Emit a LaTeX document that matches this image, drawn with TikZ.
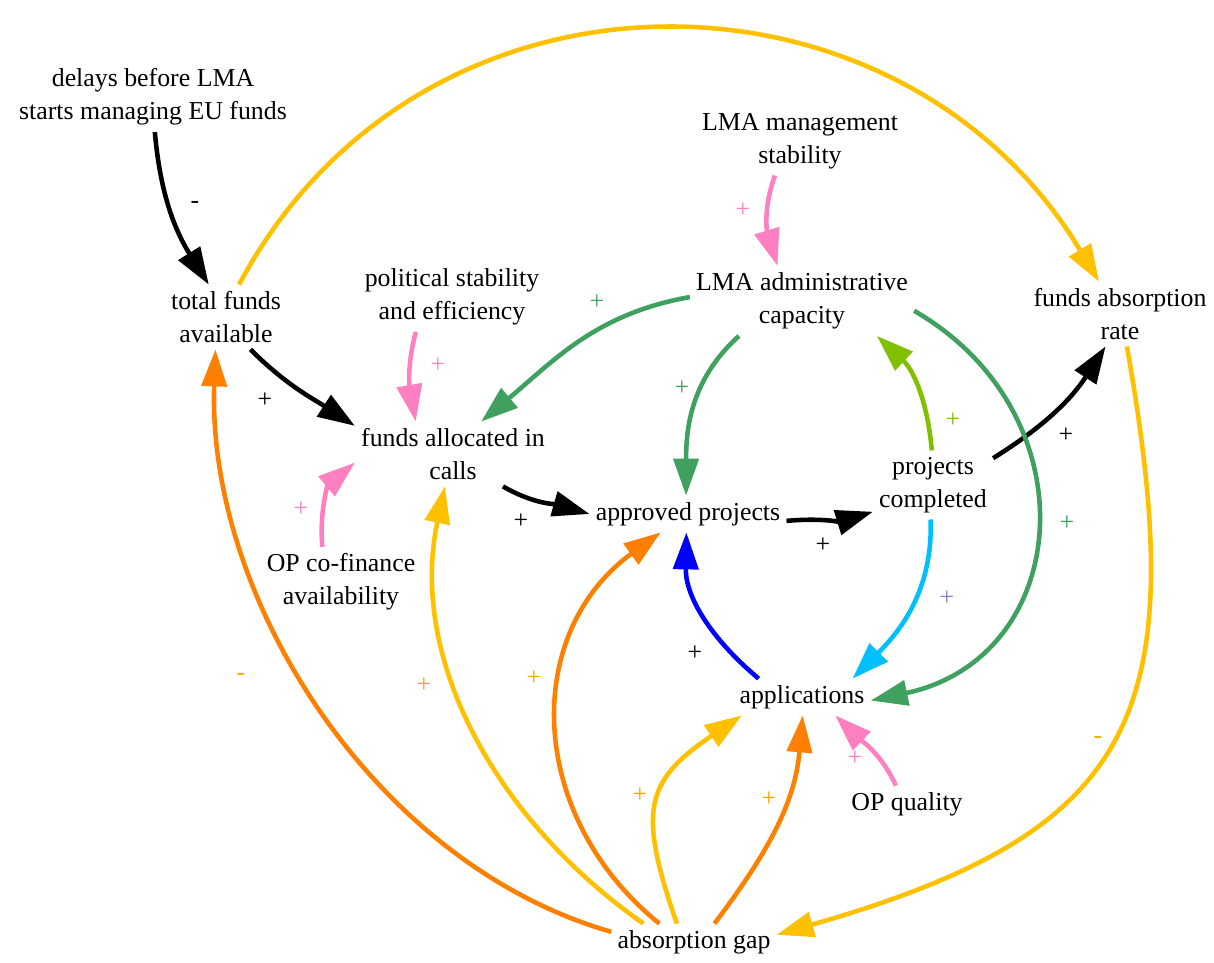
\documentclass[tikz,border=0pt]{standalone}
\usepackage{fontspec}
\setmainfont{Liberation Serif}
\usetikzlibrary{arrows.meta}
\definecolor{cldyellow}{RGB}{255,192,0}
\definecolor{cldorange}{RGB}{255,128,0}
\definecolor{cldlabel}{RGB}{255,165,0}
\definecolor{cldgreen}{RGB}{64,160,96}
\definecolor{cldlime}{RGB}{128,192,0}
\definecolor{cldpink}{RGB}{255,128,192}
\definecolor{cldcyan}{RGB}{0,191,255}
\definecolor{cldlav}{RGB}{128,128,200}
\tikzset{%
	var/.style={
		rectangle,
		inner xsep=3.4pt,
		inner ysep=3.6pt,
		align=center,
		font=\fontsize{14.7}{18.8}\selectfont
	},
	link/.style={
		line width=2.6pt,
		-{Triangle[length=0.74cm, width=0.5cm]}
	},
	polarity/.style={
		font=\fontsize{14.7}{18.8}\selectfont
	},
}

\begin{document}
\begin{tikzpicture}
	\useasboundingbox (0,0) rectangle (24.28,19.26);

	% Variables
	\node[var] (delays) at (3.06,17.32) {delays before LMA\\starts managing EU funds};
	\node[var] (total) at (4.52,12.92) {total funds\\available};
	\node[var] (polit) at (9.04,13.32) {political stability\\and efficiency};
	\node[var] (mgmt) at (16.00,16.44) {LMA management\\stability};
	\node[var] (admin) at (16.04,13.24) {LMA administrative\\capacity};
	\node[var] (rate) at (22.40,12.98) {funds absorption\\rate};
	\node[var] (alloc) at (9.06,10.18) {funds allocated in\\calls};
	\node[var] (approved) at (13.76,8.98) {approved projects};
	\node[var] (completed) at (18.66,9.56) {projects\\completed};
	\node[var] (cofin) at (6.82,7.62) {OP co-finance\\availability};
	\node[var] (appl) at (16.04,5.32) {applications};
	\node[var] (quality) at (18.14,3.18) {OP quality};
	\node[var] (gap) at (13.88,0.42) {absorption gap};

	% Black links
	\draw[link] (delays.-87) to[out=-85, in=122] (total.118);
	\node[polarity] (s1) at (3.90,15.16) {-};
	\draw[link] (total.-53) to[out=-45, in=147] (alloc.164);
	\node[polarity] (s2) at (5.30,11.26) {+};
	\draw[link] (alloc.-33) to[out=-30, in=164] (approved.180);
	\node[polarity] (s3) at (10.42,8.84) {+};
	\draw[link] (approved.-4) to[out=5, in=197] (completed.-156);
	\node[polarity] (s4) at (16.46,8.36) {+};
	\draw[link] (completed.24) to[out=32, in=-123] (rate.-114);
	\node[polarity] (s5) at (21.32,10.56) {+};
	\draw[link, blue] (appl.157) to[out=140, in=-91] (approved.-95);
	\node[polarity] (s6) at (13.90,6.20) {+};

	% Pink links
	\draw[link, cldpink] (polit.-136) to[out=-105, in=100] (alloc.139);
	\node[polarity, cldpink] (s7) at (8.76,11.96) {+};
	\draw[link, cldpink] (mgmt.-126) to[out=-110, in=107] (admin.125);
	\node[polarity, cldpink] (s8) at (14.86,15.06) {+};
	\draw[link, cldpink] (cofin.118) to[out=95, in=220] (alloc.185);
	\node[polarity, cldpink] (s9) at (6.02,9.08) {+};
	\draw[link, cldpink] (quality.121) to[out=115, in=-44] (appl.-29);
	\node[polarity, cldpink] (s10) at (17.10,4.10) {+};

	% Green links
	\draw[link, cldgreen] (admin.178) to[out=190, in=40] (alloc.49);
	\node[polarity, cldgreen] (s11) at (11.94,13.22) {+};
	\draw[link, cldgreen] (admin.-151) to[out=-138, in=90] (approved.96);
	\node[polarity, cldgreen] (s12) at (13.64,11.50) {+};
	\draw[link, cldgreen] (admin.-5) to[out=-30, in=12, looseness=1.35] (appl.-3);
	\node[polarity, cldgreen] (s13) at (21.34,8.80) {+};
	\draw[link, cldlime] (completed.92) to[out=95, in=-43] (admin.-25);
	\node[polarity, cldlime] (s14) at (19.06,10.86) {+};
	\draw[link, cldcyan] (completed.-94) to[out=-88, in=45] (appl.20);
	\node[polarity, cldlav] (s15) at (18.94,7.30) {+};

	% Absorption loops
	\draw[link, cldyellow] (total.68) to[out=62, in=121, looseness=1.15] (rate.123);
	\draw[link, cldyellow] (rate.-78) to[out=-80, in=16, looseness=1.4] (gap.5);
	\node[polarity, cldlabel] (s16) at (21.96,4.46) {-};
	\draw[link, cldorange] (gap.173) to[out=164, in=-92, looseness=0.9] (total.-108);
	\node[polarity, cldlabel] (s17) at (4.82,5.72) {-};
	\draw[link, cldyellow] (gap.160) to[out=145, in=-102, looseness=0.95] (alloc.-104);
	\node[polarity, cldlabel] (s18) at (8.48,5.56) {+};
	\draw[link, cldorange] (gap.152) to[out=141, in=-144, looseness=1.12] (approved.-146);
	\node[polarity, cldlabel] (s19) at (10.68,5.70) {+};
	\draw[link, cldyellow] (gap.133) to[out=109, in=214, looseness=1.39] (appl.-163);
	\node[polarity, cldlabel] (s20) at (12.80,3.36) {+};
	\draw[link, cldorange] (gap.42) to[out=53, in=-95] (appl.-88);
	\node[polarity, cldlabel] (s21) at (15.38,3.28) {+};
\end{tikzpicture}
\end{document}
